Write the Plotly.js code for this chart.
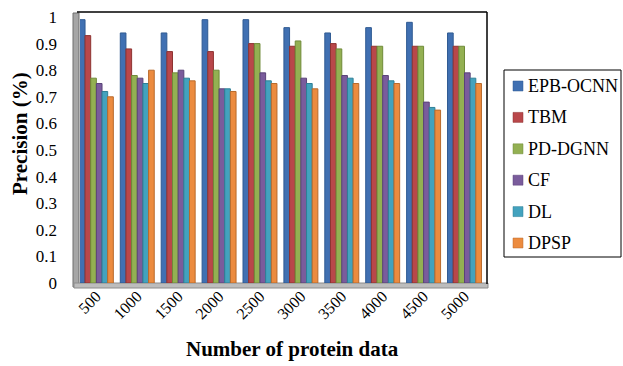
<!DOCTYPE html>
<html>
<head>
<meta charset="utf-8">
<script src="https://cdn.plot.ly/plotly-3.0.1.min.js"></script>
<style>
  html, body { margin: 0; padding: 0; background: #fff; }
  #chart { width: 623px; height: 366px; }
</style>
</head>
<body>
<div id="chart"></div>
<script>
// Precision of each method over growing protein data sets
const sizes = ['500', '1000', '1500', '2000', '2500', '3000', '3500', '4000', '4500', '5000'];
const methods = ['EPB-OCNN', 'TBM', 'PD-DGNN', 'CF', 'DL', 'DPSP'];

const epbOcnn = [0.99, 0.94, 0.94, 0.99, 0.99, 0.96, 0.94, 0.96, 0.98, 0.94];
const tbm     = [0.93, 0.88, 0.87, 0.87, 0.90, 0.89, 0.90, 0.89, 0.89, 0.89];
const pdDgnn  = [0.77, 0.78, 0.79, 0.80, 0.90, 0.91, 0.88, 0.89, 0.89, 0.89];
const cf      = [0.75, 0.77, 0.80, 0.73, 0.79, 0.77, 0.78, 0.78, 0.68, 0.79];
const dl      = [0.72, 0.75, 0.77, 0.73, 0.76, 0.75, 0.77, 0.76, 0.66, 0.77];
const dpsp    = [0.70, 0.80, 0.76, 0.72, 0.75, 0.73, 0.75, 0.75, 0.65, 0.75];

const series = [epbOcnn, tbm, pdDgnn, cf, dl, dpsp];
const fills  = ['#4070B2', '#B9474A', '#93B052', '#7A5C9C', '#43A2BE', '#EC8B3F'];
const edges  = ['#2F5A92', '#8E3331', '#6F8A38', '#5A4378', '#2E7F96', '#B96A2C'];

const W = 623, H = 366;
const M = { l: 80, r: 136, t: 17, b: 83 };
const pw = W - M.l - M.r, ph = H - M.t - M.b;
const px = x => (x - M.l) / pw;            // pixel -> paper x
const py = y => (H - M.b - y) / ph;        // pixel -> paper y

const traces = series.map((vals, i) => ({
  type: 'bar',
  name: methods[i],
  x: sizes.map((_, k) => k),
  y: vals,
  marker: { color: fills[i], line: { color: edges[i], width: 1 } },
  hoverinfo: 'name+y'
}));

const serif = 'Liberation Serif';

const shapes = [
  // left side wall
  { type: 'rect', xref: 'paper', yref: 'paper', x0: px(73), x1: px(79), y0: py(287), y1: py(13),
    fillcolor: '#A6A6A6', line: { color: '#6E6E6E', width: 1 }, layer: 'below' },
  // floor
  { type: 'rect', xref: 'paper', yref: 'paper', x0: px(74), x1: px(488), y0: py(288), y1: py(283),
    fillcolor: '#BDBDBD', line: { color: '#8C8C8C', width: 1 }, layer: 'below' },
  // back frame: top edge and right edge
  { type: 'line', xref: 'paper', yref: 'paper', x0: px(77), x1: px(487), y0: py(12), y1: py(12),
    line: { color: '#000', width: 1.5 } },
  { type: 'line', xref: 'paper', yref: 'paper', x0: px(487), x1: px(487), y0: py(12), y1: py(284),
    line: { color: '#000', width: 1.5 } },
  // legend box
  { type: 'rect', xref: 'paper', yref: 'paper', x0: px(504), x1: px(621), y0: py(257), y1: py(70),
    fillcolor: 'rgba(0,0,0,0)', line: { color: '#000', width: 1 } }
];

const annotations = [
  { text: '<b>Number of protein data</b>', xref: 'paper', yref: 'paper',
    x: px(292), y: py(349), xanchor: 'center', yanchor: 'middle', showarrow: false,
    font: { family: serif, size: 21, color: '#000' } },
  { text: '<b>Precision (%)</b>', xref: 'paper', yref: 'paper', textangle: -90,
    x: px(20), y: py(134), xanchor: 'center', yanchor: 'middle', showarrow: false,
    font: { family: serif, size: 21, color: '#000' } }
];

// legend: one swatch and label per method
const legendTop = 86, legendStep = 31.4;
methods.forEach((name, i) => {
  const cy = legendTop + i * legendStep;
  shapes.push({ type: 'rect', xref: 'paper', yref: 'paper',
    x0: px(513), x1: px(523), y0: py(cy + 5), y1: py(cy - 5),
    fillcolor: fills[i], line: { color: edges[i], width: 0.5 } });
  annotations.push({ text: name, xref: 'paper', yref: 'paper',
    x: px(526), y: py(cy), xanchor: 'left', yanchor: 'middle', showarrow: false,
    font: { family: serif, size: 18, color: '#000' } });
});

const layout = {
  width: W, height: H,
  margin: M,
  paper_bgcolor: '#fff', plot_bgcolor: '#fff',
  barmode: 'group',
  bargap: 0.17,
  bargroupgap: 0,
  showlegend: false,
  font: { family: serif, color: '#000', size: 16 },
  xaxis: {
    range: [-0.4, 9.55],
    tickmode: 'array',
    tickvals: sizes.map((_, k) => k),
    ticktext: sizes,
    tickangle: -45,
    ticks: '',
    showgrid: false, zeroline: false, showline: false,
    tickfont: { family: serif, size: 16, color: '#000' },
    fixedrange: true
  },
  yaxis: {
    range: [0, 1],
    tickvals: [0, 0.1, 0.2, 0.3, 0.4, 0.5, 0.6, 0.7, 0.8, 0.9, 1],
    ticktext: ['0', '0.1', '0.2', '0.3', '0.4', '0.5', '0.6', '0.7', '0.8', '0.9', '1'],
    ticks: '',
    ticklabelstandoff: 22,
    showgrid: false, zeroline: false, showline: false,
    tickfont: { family: serif, size: 17, color: '#000' },
    fixedrange: true
  },
  shapes: shapes,
  annotations: annotations
};

Plotly.newPlot('chart', traces, layout, { displayModeBar: false, staticPlot: true });
</script>
</body>
</html>
